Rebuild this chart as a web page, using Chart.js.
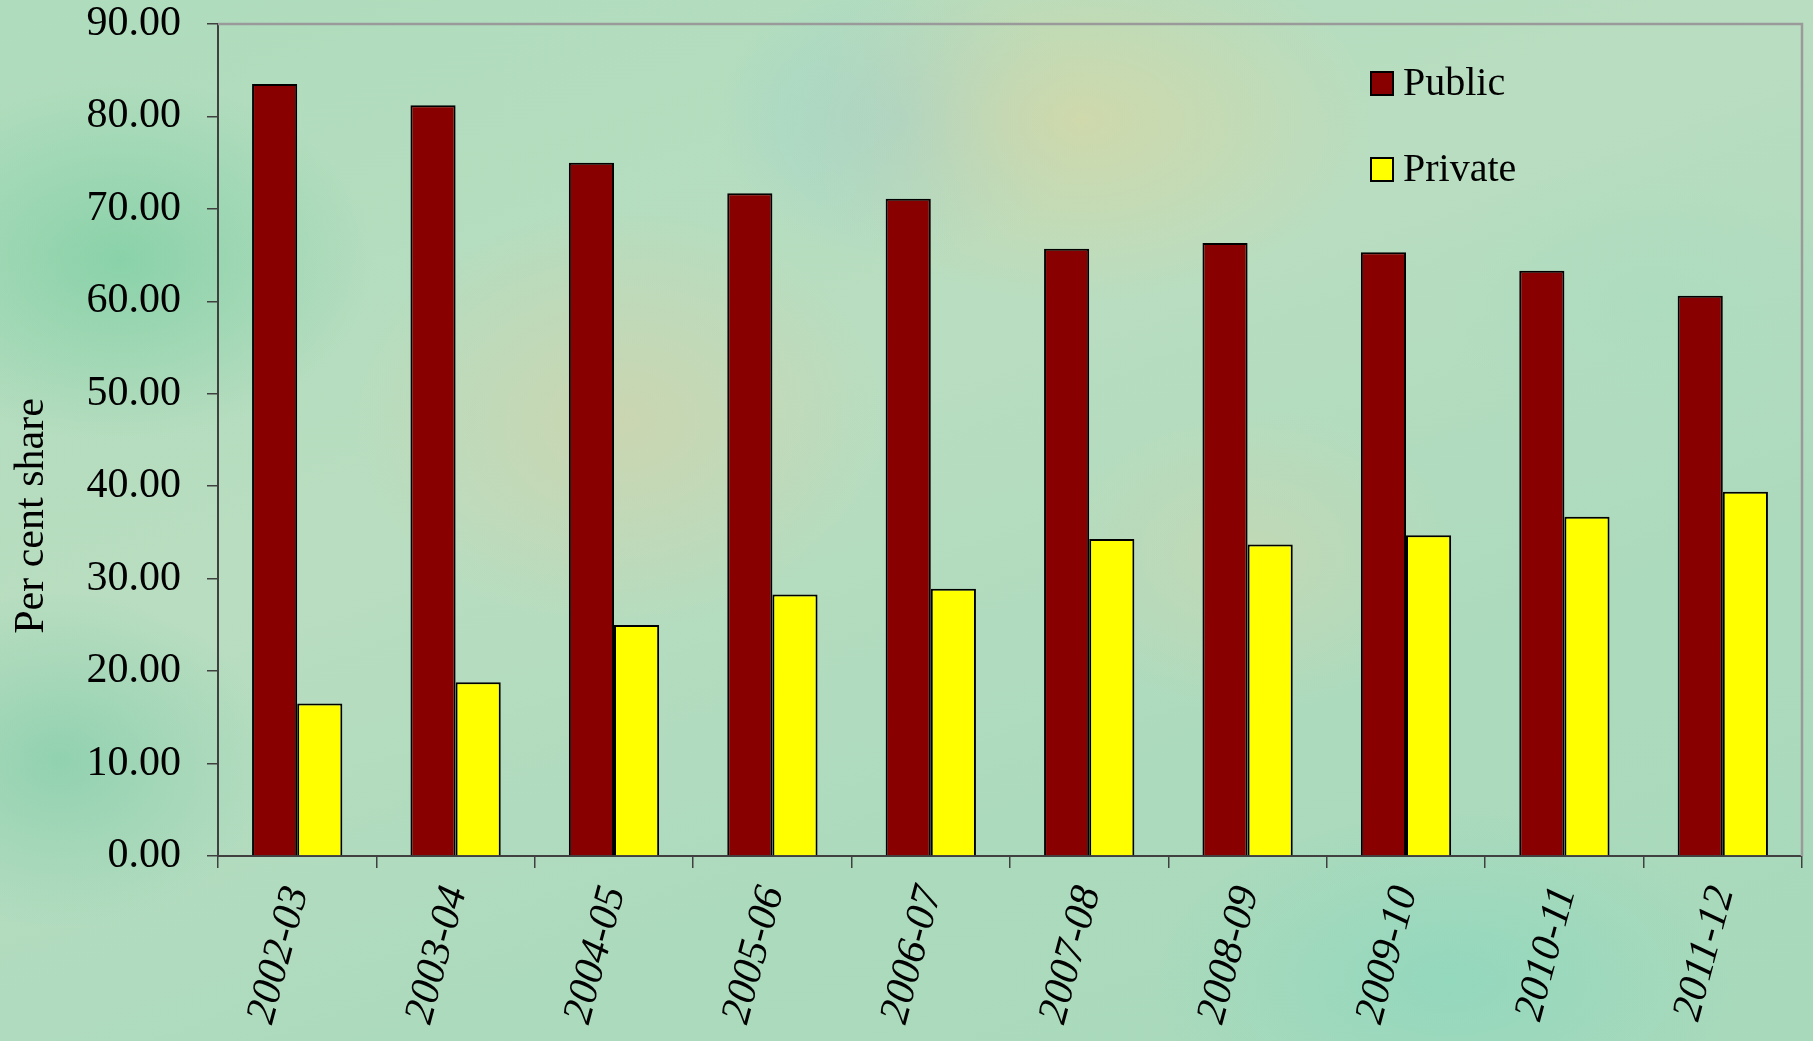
<!DOCTYPE html>
<html>
<head>
<meta charset="utf-8">
<script src="https://cdn.jsdelivr.net/npm/chart.js@4/dist/chart.umd.min.js"></script>
<style>
  html, body { margin: 0; padding: 0; }
  body {
    width: 1813px; height: 1041px; overflow: hidden;
    background:
      radial-gradient(ellipse 420px 260px at 1080px 120px, rgba(215,215,165,0.75), rgba(215,215,165,0) 70%),
      radial-gradient(ellipse 380px 300px at 620px 420px, rgba(210,210,170,0.7), rgba(210,210,170,0) 70%),
      radial-gradient(ellipse 300px 220px at 1250px 560px, rgba(205,215,175,0.6), rgba(205,215,175,0) 70%),
      radial-gradient(ellipse 360px 260px at 120px 260px, rgba(120,205,160,0.7), rgba(120,205,160,0) 70%),
      radial-gradient(ellipse 420px 240px at 1450px 980px, rgba(140,215,190,0.75), rgba(140,215,190,0) 70%),
      radial-gradient(ellipse 300px 240px at 60px 760px, rgba(130,205,170,0.7), rgba(130,205,170,0) 70%),
      radial-gradient(ellipse 260px 200px at 900px 120px, rgba(150,205,210,0.6), rgba(150,205,210,0) 70%),
      radial-gradient(ellipse 300px 200px at 1650px 300px, rgba(170,220,190,0.6), rgba(170,220,190,0) 70%),
      linear-gradient(160deg, #aedcbc 0%, #b9ddc0 40%, #acdabd 70%, #a8d9bb 100%);
  }
  #wrap { position: absolute; left: 0; top: 0; width: 1813px; height: 1041px; }
</style>
</head>
<body>
<div id="wrap"><canvas id="c"></canvas></div>
<script>
const categories = ["2002-03","2003-04","2004-05","2005-06","2006-07","2007-08","2008-09","2009-10","2010-11","2011-12"];
const publicShare = [83.5, 81.2, 75.0, 71.7, 71.1, 65.7, 66.3, 65.3, 63.3, 60.6];
const privateShare = [16.5, 18.8, 25.0, 28.3, 28.9, 34.3, 33.7, 34.7, 36.7, 39.4];
const seriesNames = ["Public", "Private"];
const yAxisTitle = "Per cent share";

const serif = "'Liberation Serif', 'Times New Roman', serif";

const framePlugin = {
  id: 'frame',
  beforeDatasetsDraw(chart) {
    const {ctx, chartArea: a} = chart;
    ctx.save();
    ctx.strokeStyle = '#9a9a9a';
    ctx.lineWidth = 2.5;
    ctx.beginPath();
    ctx.moveTo(a.left, a.top);
    ctx.lineTo(a.right, a.top);
    ctx.lineTo(a.right, a.bottom);
    ctx.stroke();
    ctx.restore();
  },
  afterDraw(chart) {
    const ctx = chart.ctx;
    ctx.save();
    ctx.font = "42px " + serif;
    ctx.fillStyle = '#000';
    ctx.textAlign = 'center';
    ctx.textBaseline = 'middle';
    ctx.translate(32, 516);
    ctx.rotate(-Math.PI / 2);
    ctx.fillText(yAxisTitle, 0, 0);
    ctx.restore();
    const items = chart.data.datasets;
    ctx.save();
    ctx.font = "40px " + serif;
    ctx.textBaseline = 'middle';
    ctx.textAlign = 'left';
    items.forEach((ds, i) => {
      const bx = 1371, by = 72 + i * 86, bw = 22, bh = 23;
      ctx.fillStyle = ds.backgroundColor;
      ctx.fillRect(bx, by, bw, bh);
      ctx.strokeStyle = '#000';
      ctx.lineWidth = 2;
      ctx.strokeRect(bx, by, bw, bh);
      ctx.fillStyle = '#000';
      ctx.fillText(ds.label, bx + 32, by + bh / 2 + 1);
    });
    ctx.restore();
  }
};

new Chart(document.getElementById('c'), {
  type: 'bar',
  data: {
    labels: categories,
    datasets: [
      { label: seriesNames[0], data: publicShare, backgroundColor: '#880000', borderColor: '#000', borderWidth: 2, borderSkipped: 'start' },
      { label: seriesNames[1], data: privateShare, backgroundColor: '#ffff00', borderColor: '#000', borderWidth: 2, borderSkipped: 'start' }
    ]
  },
  options: {
    responsive: true,
    maintainAspectRatio: false,
    animation: false,
    devicePixelRatio: 1,
    layout: { padding: { left: 0, right: 11, top: 24, bottom: 0 } },
    datasets: { bar: { categoryPercentage: 0.57, barPercentage: 1.0 } },
    plugins: { legend: { display: false }, tooltip: { enabled: false } },
    scales: {
      x: {
        afterFit(scale) { scale.height = 185; scale.paddingLeft = 0; scale.paddingRight = 0; },
        border: { display: true, color: '#404040', width: 2 },
        grid: { display: true, drawOnChartArea: false, drawTicks: true, tickLength: 12, color: '#404040', lineWidth: 1.5, offset: true },
        ticks: {
          color: '#000',
          font: { family: serif, size: 42, style: 'italic' },
          minRotation: 75, maxRotation: 75, padding: 13, autoSkip: false
        }
      },
      y: {
        min: 0, max: 90,
        afterFit(scale) { scale.width = 218; scale.paddingTop = 0; scale.paddingBottom = 0; },
        border: { display: true, color: '#404040', width: 2 },
        grid: { display: true, drawOnChartArea: false, drawTicks: true, tickLength: 11, color: '#404040', lineWidth: 1.5 },
        ticks: {
          stepSize: 10,
          color: '#000',
          padding: 26,
          font: { family: serif, size: 42, lineHeight: 1.14 },
          callback: (v) => Number(v).toFixed(2)
        }
      }
    }
  },
  plugins: [framePlugin]
});
</script>
</body>
</html>
